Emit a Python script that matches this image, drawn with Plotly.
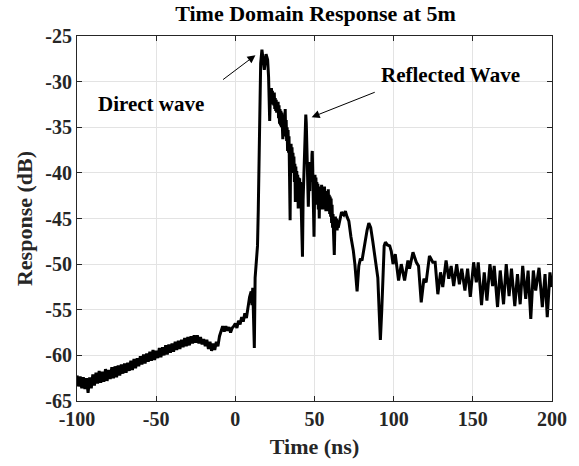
import plotly.graph_objects as go

# ---- data ----
# pre-pulse noise floor, 1 ns samples from -100 ns to 9 ns
t_pre = list(range(-100, 10))
v_pre = [
    -62.2, -63.4, -62.3, -63.6, -62.4, -63.7, -62.5, -64.1, -62.4, -63.6,
    -62.1, -63.3, -61.9, -63.1, -61.7, -63.0, -61.8, -62.9, -61.5, -62.8,
    -61.6, -62.6, -61.3, -62.5, -61.2, -62.4, -61.1, -62.2, -61.0, -62.0,
    -60.9, -61.9, -60.8, -61.7, -60.6, -61.6, -60.4, -61.4, -60.3, -61.2,
    -60.1, -61.0, -59.9, -60.9, -59.8, -60.7, -59.6, -60.6, -59.4, -60.5,
    -59.5, -60.3, -59.2, -60.2, -59.1, -60.0, -58.9, -59.9, -58.8, -59.7,
    -58.7, -59.6, -58.5, -59.4, -58.4, -59.3, -58.3, -59.1, -58.1, -59.0,
    -58.0, -58.9, -57.9, -58.7, -57.8, -58.6, -57.8, -58.7, -58.0, -58.8,
    -58.2, -59.0, -58.3, -59.3, -58.5, -59.5, -58.7, -59.4, -58.5, -59.0,
    -57.9, -57.3, -56.8, -57.4, -56.8, -57.3, -56.9, -57.5, -57.0, -56.8,
    -56.5, -57.0, -56.2, -56.6, -55.8, -56.3, -55.4, -55.9, -54.6, -53.6,
]

# main pulse, reflections and tail (time in ns, response in dB)
t_main = [
    10.0, 10.5, 11.0, 11.5, 12.0, 12.5, 13.0, 13.5, 14.0, 14.5, 15.0, 15.5, 16.0,
    16.8, 17.5, 18.3, 19.4, 20.4, 21.0, 21.7,
    22.2, 22.5, 22.8, 23.1, 23.4, 23.7, 24.0, 24.3, 24.6, 24.9, 25.2, 25.5, 25.8,
    26.1, 26.4, 26.7, 27.0, 27.3, 27.6, 27.9, 28.2, 28.5, 28.8, 29.1, 29.4, 29.7,
    30.0, 30.3, 30.6, 30.9, 31.2, 31.5, 31.8, 32.1, 32.4, 32.7, 33.0, 33.3, 33.6,
    33.9, 34.2, 34.6, 34.9, 35.2, 35.5, 35.8, 36.1, 36.4, 36.7, 37.0, 37.3, 37.6,
    37.9, 38.2, 38.5, 38.8, 39.1, 39.4, 39.7, 40.0, 40.3, 40.6, 40.9, 41.2, 41.6,
    42.0, 42.4, 42.8, 43.1, 43.4, 43.8, 44.2, 44.5, 44.8, 45.1, 45.5, 45.8, 46.1,
    46.4, 46.7, 47.0, 47.2, 47.5, 47.8, 48.1, 48.4, 48.6, 48.9, 49.2, 49.5, 49.7,
    50.0, 50.3, 50.6, 50.9, 51.2, 51.5, 51.8, 52.1, 52.4, 52.7, 53.0, 53.3, 53.6,
    53.9, 54.2, 54.5, 54.8, 55.1, 55.4, 55.7, 56.0, 56.3, 56.6, 56.9, 57.2, 57.5,
    57.8, 58.1, 58.4, 58.7, 59.0, 59.3, 59.6, 59.9, 60.2, 60.5, 60.8, 61.1, 61.4,
    61.7, 62.0, 62.5, 62.9, 63.2, 63.6, 63.9, 64.3, 64.7, 65.0, 65.6,
    67.1, 68.5, 69.5, 70.5, 71.7, 73.0, 74.5, 75.5, 76.9, 78.0, 79.0, 80.0,
    81.0, 82.0, 83.2, 84.3, 85.5, 86.8, 88.0, 89.3, 90.0, 90.8, 91.6, 92.5, 93.3,
    94.0, 94.8, 96.0, 97.5, 98.5, 99.6, 101.0, 103.1, 104.8, 106.9, 109.0, 110.0,
    112.2, 114.3, 115.7, 117.4, 119.1, 120.5, 122.6, 124.7, 126.2, 127.9, 129.6,
    131.0, 133.1, 134.8, 136.3, 137.9, 139.8, 141.5, 143.0, 145.0, 146.7, 148.4,
    150.5, 152.2, 153.4, 155.5, 157.2, 158.9, 160.8, 162.5, 163.5, 165.6, 167.3,
    169.4, 171.1, 172.9, 174.4, 176.5, 178.2, 179.9, 181.5, 183.4, 184.9, 186.6,
    188.2, 189.7, 191.8, 193.9, 195.6, 197.0, 198.7, 200.0,
]
v_main = [
    -53.0, -54.5, -52.6, -55.0, -59.2, -51.5, -50.4, -49.5, -48.0, -44.0, -38.0, -32.0, -28.0,
    -26.5, -27.5, -28.7, -27.0, -27.6, -29.5, -34.3,
    -31.0, -32.2, -30.7, -32.0, -31.0, -32.5, -31.3, -32.6, -31.2, -33.0, -31.8, -33.2, -32.0,
    -33.4, -32.3, -33.0, -32.2, -34.0, -32.6, -34.6, -33.0, -34.8, -33.2, -35.0, -33.4, -35.2,
    -36.3, -33.8, -35.5, -33.6, -35.8, -33.0, -36.0, -34.2, -36.5, -35.0, -37.6, -35.3, -37.8,
    -36.0, -38.5, -45.2, -38.8, -36.8, -39.0, -37.2, -39.5, -37.8, -40.0, -38.2, -41.0, -39.0,
    -43.2, -39.3, -41.5, -39.8, -42.0, -40.2, -43.9, -40.5, -42.5, -40.6, -42.8, -41.0, -44.0,
    -45.5, -49.2, -43.0, -41.0, -39.9, -36.0, -34.2, -33.6, -34.5, -36.5, -39.9, -42.0, -43.7,
    -41.5, -40.5, -42.0, -38.8, -40.5, -39.0, -41.0, -38.0, -37.6, -40.0, -42.0, -44.5, -47.0,
    -43.0, -40.2, -42.5, -40.5, -43.0, -41.0, -43.5, -41.2, -44.0, -42.0, -45.0, -42.2, -44.0,
    -41.5, -43.8, -41.3, -44.0, -42.0, -43.8, -41.6, -44.0, -41.5, -43.8, -42.0, -44.2, -42.2,
    -44.0, -42.0, -44.2, -41.8, -44.0, -42.4, -44.5, -42.6, -44.8, -42.8, -45.5, -43.5, -46.0,
    -44.5, -46.5, -49.0, -45.5, -44.8, -46.2, -45.0, -46.3, -45.2, -46.0, -45.6,
    -44.3, -44.6, -44.2, -44.8, -45.3, -47.0, -48.5, -50.0, -53.0, -50.2, -49.4, -49.6,
    -48.5, -47.6, -46.3, -45.5, -46.0, -47.5, -49.0, -51.0, -51.5, -55.0, -58.3, -55.0, -50.5,
    -48.0, -47.6, -47.9, -48.0, -48.6, -50.0, -48.9, -51.8, -50.0, -51.8, -49.6, -50.5,
    -48.7, -49.8, -50.2, -54.2, -51.6, -52.0, -49.1, -49.8, -49.8, -53.3, -50.9,
    -52.5, -49.6, -51.6, -50.2, -52.4, -50.0, -52.2, -50.5, -52.9, -50.5, -53.6,
    -49.8, -52.0, -49.8, -54.5, -50.9, -54.0, -50.0, -52.4, -50.2, -54.7, -50.7,
    -54.4, -50.0, -53.5, -50.5, -54.6, -51.1, -54.4, -50.2, -53.8, -50.7, -56.0,
    -50.7, -52.9, -50.4, -54.7, -51.1, -55.8, -50.9, -52.5,
]

time_ns = t_pre + t_main
response_db = v_pre + v_main

x_ticks = [-100, -50, 0, 50, 100, 150, 200]
x_labels = ["-100", "-50", "0", "50", "100", "150", "200"]
y_ticks = [-65, -60, -55, -50, -45, -40, -35, -30, -25]
y_labels = ["-65", "-60", "-55", "-50", "-45", "-40", "-35", "-30", "-25"]

FONT = "Liberation Serif, Times New Roman, serif"
AX = "#262626"

fig = go.Figure()
fig.add_trace(go.Scatter(x=time_ns, y=response_db, mode="lines",
                         line=dict(color="black", width=3), showlegend=False))

axis_common = dict(showline=True, linecolor=AX, linewidth=1, mirror="ticks",
                   ticks="inside", ticklen=5, tickcolor=AX, tickwidth=1,
                   showgrid=True, gridcolor="#e3e3e3", gridwidth=1, zeroline=False,
                   tickfont=dict(family=FONT, size=20, color=AX, weight="bold"))

fig.update_layout(
    width=579, height=466,
    margin=dict(l=77, r=25, t=36, b=63),
    paper_bgcolor="white", plot_bgcolor="white",
    title=dict(text="Time Domain Response at 5m", x=0.545, xanchor="center",
               y=1 - 13 / 466, yanchor="middle", yref="container",
               font=dict(family=FONT, size=22, color="black", weight="bold")),
    xaxis=dict(range=[-100, 200], tickvals=x_ticks, ticktext=x_labels,
               title=dict(text="Time (ns)", standoff=9,
                          font=dict(family=FONT, size=22, color=AX, weight="bold")),
               **axis_common),
    yaxis=dict(range=[-65, -25], tickvals=y_ticks, ticktext=y_labels,
               title=dict(text="Response (dB)", standoff=6,
                          font=dict(family=FONT, size=22, color=AX, weight="bold")),
               **axis_common),
)

ann_font = dict(family=FONT, size=21, color="black", weight="bold")
fig.add_annotation(x=-53, y=-32.4, xref="x", yref="y", text="Direct wave",
                   showarrow=False, font=ann_font)
fig.add_annotation(x=136, y=-29.3, xref="x", yref="y", text="Reflected Wave",
                   showarrow=False, font=ann_font)
fig.add_annotation(x=12.7, y=-27.1, ax=-8.7, ay=-29.9, xref="x", yref="y",
                   axref="x", ayref="y", text="", showarrow=True,
                   arrowhead=2, arrowsize=1.6, arrowwidth=1, arrowcolor="black")
fig.add_annotation(x=48.2, y=-33.9, ax=89, ay=-31.1, xref="x", yref="y",
                   axref="x", ayref="y", text="", showarrow=True,
                   arrowhead=2, arrowsize=1.6, arrowwidth=1, arrowcolor="black")

fig.write_html("out.html")
